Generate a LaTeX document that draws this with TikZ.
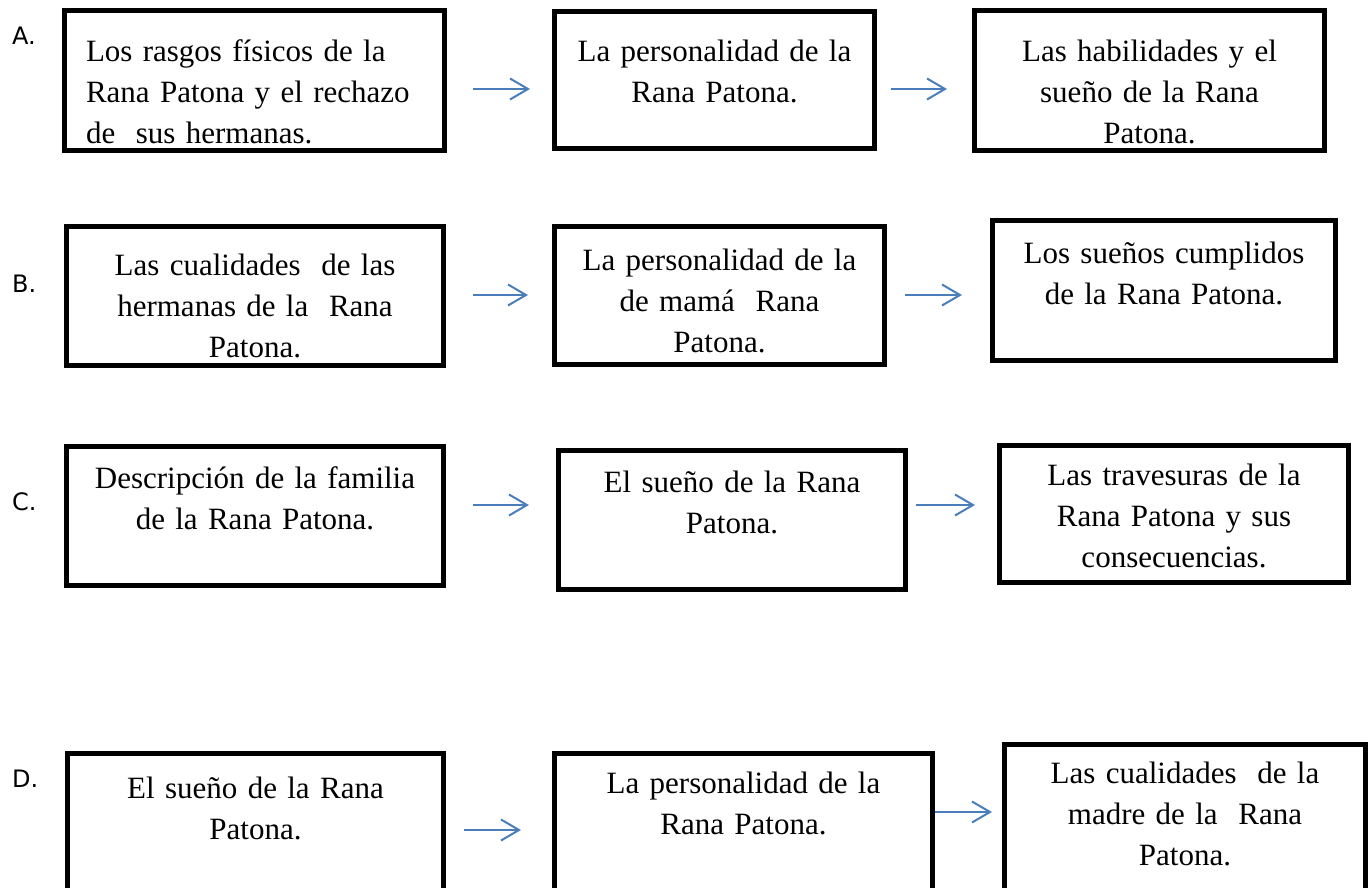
\documentclass[tikz,border=0pt]{standalone}
\usepackage{fontspec}
\setmainfont{Liberation Serif}
\newfontfamily\letterfont{DejaVu Sans}
\usetikzlibrary{arrows.meta}
\definecolor{arrowblue}{HTML}{4A7EBB}

\begin{document}
\begin{tikzpicture}[x=1pt, y=-1pt,
  box/.style={draw, line width=5pt, anchor=north west, inner sep=0pt, outer sep=0pt,
              align=center, font=\fontsize{31}{41}\selectfont},
  letter/.style={anchor=base west, inner sep=0pt, font=\letterfont\fontsize{24}{28}\selectfont},
  link/.style={draw=arrowblue, line width=2pt, -{Straight Barb[length=18pt, width=21pt]}},
]
\useasboundingbox (0,0) rectangle (1371,888);
\clip (0,0) rectangle (1371,888);

\node[letter] (la) at (12, 45) {A.};
\node[letter] (lb) at (12, 292) {B.};
\node[letter] (lc) at (12, 510) {C.};
\node[letter] (ld) at (12, 787) {D.};

\node[box, align=left, inner xsep=21.5pt, text width=337pt, text height=51.5pt, text depth=88.5pt]
  (a1) at (64.5, 10.5) {Los rasgos físicos de la\\Rana Patona y el rechazo\\de\ \ sus hermanas.};
\node[box, text width=320pt, text height=50.5pt, text depth=86.5pt]
  (a2) at (554.5, 11.5) {La personalidad de la\\Rana Patona.};
\node[box, text width=350pt, text height=51.5pt, text depth=88.5pt]
  (a3) at (974.5, 10.5) {Las habilidades y el\\sueño de la Rana\\Patona.};

\node[box, text width=377pt, text height=48.5pt, text depth=90.5pt]
  (b1) at (66.5, 226.5) {Las cualidades\ \ de las\\hermanas de la\ \ Rana\\Patona.};
\node[box, text width=330pt, text height=43.5pt, text depth=94.5pt]
  (b2) at (554.5, 226.5) {La personalidad de la\\de mamá\ \ Rana\\Patona.};
\node[box, text width=343pt, text height=42.5pt, text depth=97.5pt]
  (b3) at (992.5, 220.5) {Los sueños cumplidos\\de la Rana Patona.};

\node[box, text width=377pt, text height=41.5pt, text depth=97.5pt]
  (c1) at (66.5, 446.5) {Descripción de la familia\\de la Rana Patona.};
\node[box, text width=347pt, text height=41.5pt, text depth=97.5pt]
  (c2) at (558.5, 450.5) {El sueño de la Rana\\Patona.};
\node[box, text width=349pt, text height=39.5pt, text depth=97.5pt]
  (c3) at (999.5, 445.5) {Las travesuras de la\\Rana Patona y sus\\consecuencias.};

\node[box, text width=376pt, text height=44.5pt, text depth=111.5pt]
  (d1) at (67.5, 753.5) {El sueño de la Rana\\Patona.};
\node[box, text width=378pt, text height=39.5pt, text depth=116.5pt]
  (d2) at (554.5, 753.5) {La personalidad de la\\Rana Patona.};
\node[box, text width=361pt, text height=38.5pt, text depth=127pt]
  (d3) at (1004.5, 744.5) {Las cualidades\ \ de la\\madre de la\ \ Rana\\Patona.};

\coordinate (ya) at (0, 89);
\coordinate (yb) at (0, 295);
\coordinate (yc) at (0, 505);
\coordinate (yd) at (0, 830);
\coordinate (ye) at (0, 812);

\draw[link, shorten <=28.5pt, shorten >=24.5pt] (a1.east |- ya) -- (a2.west |- ya);
\draw[link, shorten <=16.5pt, shorten >=27.5pt] (a2.east |- ya) -- (a3.west |- ya);
\draw[link, shorten <=29.5pt, shorten >=26.5pt] (b1.east |- yb) -- (b2.west |- yb);
\draw[link, shorten <=20.5pt, shorten >=30.5pt] (b2.east |- yb) -- (b3.west |- yb);
\draw[link, shorten <=29.5pt, shorten >=29.5pt] (c1.east |- yc) -- (c2.west |- yc);
\draw[link, shorten <=10.5pt, shorten >=24.5pt] (c2.east |- yc) -- (c3.west |- yc);
\draw[link, shorten <=20.5pt, shorten >=33.5pt] (d1.east |- yd) -- (d2.west |- yd);
\draw[link, shorten <=2.5pt, shorten >=12.5pt] (d2.east |- ye) -- (d3.west |- ye);

\end{tikzpicture}
\end{document}
